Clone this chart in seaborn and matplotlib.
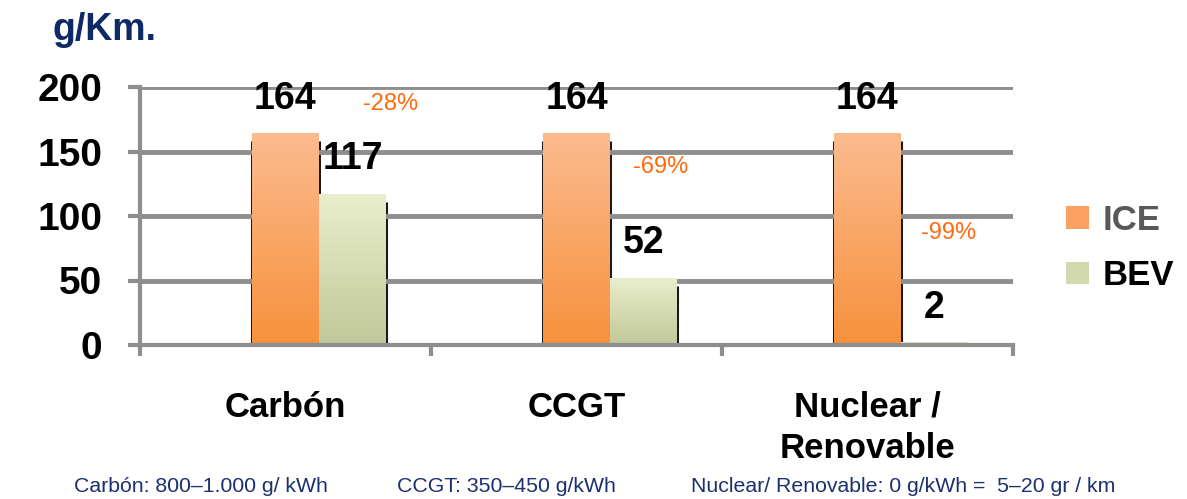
import numpy as np
import pandas as pd
import matplotlib
matplotlib.use("Agg")
import matplotlib.pyplot as plt
from matplotlib.patches import Patch
from matplotlib.colors import LinearSegmentedColormap
import seaborn as sns

# --- data -------------------------------------------------------------
categories = ["Carbón", "CCGT", "Nuclear /\nRenovable"]
ice_values = [164, 164, 164]
bev_values = [117, 52, 2]
reduction_labels = ["-28%", "-69%", "-99%"]
yticks = [0, 50, 100, 150, 200]
footnotes = [
    "Carbón: 800–1.000 g/ kWh",
    "CCGT: 350–450 g/kWh",
    "Nuclear/ Renovable: 0 g/kWh =  5–20 gr / km",
]

# --- styling ----------------------------------------------------------
sns.set_theme(style="white")
plt.rcParams["font.family"] = ["Liberation Sans", "DejaVu Sans"]

GRID = "#8e8e8e"
NAVY = "#0d2a66"
FOOT = "#1c2f6e"
ORANGE_TXT = "#ff6a10"
ICE_TOP, ICE_BOT = "#fcbb8f", "#f7913c"
BEV_TOP, BEV_BOT = "#e9eecd", "#c1c898"
ICE_SWATCH, BEV_SWATCH = "#f9a062", "#d3d9ae"

# long-format table; the blank series keeps ICE centred on each category
df = pd.DataFrame({
    "fuente": categories * 3,
    "serie": [" "] * 3 + ["ICE"] * 3 + ["BEV"] * 3,
    "valor": [0] * 3 + ice_values + bev_values,
})

W, H = 1187, 499
fig = plt.figure(figsize=(W / 100, H / 100), dpi=100)
ax = fig.add_axes([140 / W, 1 - 345 / H, 873 / W, 258 / H])

sns.barplot(
    data=df, x="fuente", y="valor", hue="serie",
    hue_order=[" ", "ICE", "BEV"],
    palette=["white", ICE_SWATCH, BEV_SWATCH],
    width=0.69, saturation=1, errorbar=None, legend=False,
    linewidth=0, ax=ax, zorder=2,
)

ice_bars = ax.containers[1]
bev_bars = ax.containers[2]

# vertical gradient fill + dark side shading on every bar
def shade(container, top, bottom):
    cmap = LinearSegmentedColormap.from_list("g", [top, bottom])
    grad = np.linspace(0, 1, 256).reshape(-1, 1)
    for p in container.patches:
        x0, w, h = p.get_x(), p.get_width(), p.get_height()
        if h <= 0:
            continue
        im = ax.imshow(grad, extent=[x0, x0 + w, 0, h], aspect="auto",
                       cmap=cmap, zorder=2.5, interpolation="bilinear")
        im.set_clip_path(p)
        if h > 12:
            ax.vlines([x0, x0 + w], 0, h - 6, color="#1a1a1a", lw=2.2, zorder=0.3)

shade(ice_bars, ICE_TOP, ICE_BOT)
shade(bev_bars, BEV_TOP, BEV_BOT)

ax.set_xlim(-0.5, len(categories) - 0.5)
ax.set_ylim(0, 200)

# value labels
label_font = dict(fontsize=27, fontweight="bold", color="black")
ax.bar_label(ice_bars, labels=[str(v) for v in ice_values], padding=12, **label_font)
ax.bar_label(bev_bars, labels=[str(v) for v in bev_values], padding=12, **label_font)

# reduction percentages, placed to the right of each group
pct_anchor = [(0.36, 187), (1.29, 138), (2.28, 87)]
for txt, (px, py) in zip(reduction_labels, pct_anchor):
    ax.text(px, py, txt, color=ORANGE_TXT, fontsize=17, ha="center", va="center")

# axes, grid, ticks
ax.set_yticks(yticks)
ax.yaxis.grid(True, color=GRID, lw=3.5)
ax.set_axisbelow(True)
for side in ("top", "right"):
    ax.spines[side].set_visible(False)
for side in ("left", "bottom"):
    ax.spines[side].set_color(GRID)
    ax.spines[side].set_linewidth(3)

ax.tick_params(axis="y", which="major", left=True, length=9, width=3,
               color=GRID, pad=18, labelsize=28)
for t in ax.get_yticklabels():
    t.set_fontweight("bold")
    t.set_color("black")

ax.set_xticks(range(len(categories)))
ax.set_xticklabels(categories, fontsize=25, fontweight="bold", color="black",
                   linespacing=1.3)
ax.tick_params(axis="x", which="major", length=0, pad=33)
ax.set_xticks([i - 0.5 for i in range(len(categories) + 1)], minor=True)
ax.tick_params(axis="x", which="minor", bottom=True, length=8, width=3,
               color=GRID, direction="out")
ax.set_xlabel("")
ax.set_ylabel("")

# title / unit
fig.text(52 / W, 1 - 40 / H, "g/Km.", fontsize=27, fontweight="bold",
         color=NAVY, ha="left", va="baseline")

# legend
handles = [Patch(facecolor=ICE_SWATCH, edgecolor="none"),
           Patch(facecolor=BEV_SWATCH, edgecolor="none")]
leg = fig.legend(handles, ["ICE", "BEV"], loc="center left",
                 bbox_to_anchor=(1066 / W, 1 - 248 / H), frameon=False,
                 prop=dict(size=25, weight="bold"),
                 handlelength=0.65, handleheight=0.6, handletextpad=0.4,
                 labelspacing=0.65, borderpad=0, borderaxespad=0)
leg.get_texts()[0].set_color("#595959")
leg.get_texts()[1].set_color("black")

# footnotes
foot_x = [74, 397, 691]
for fx, txt in zip(foot_x, footnotes):
    fig.text(fx / W, 1 - 487 / H, txt, fontsize=15.3, color=FOOT,
             ha="left", va="center",
             family=["Liberation Sans", "DejaVu Sans"])

fig.savefig("out.png", dpi=100, facecolor="white")
